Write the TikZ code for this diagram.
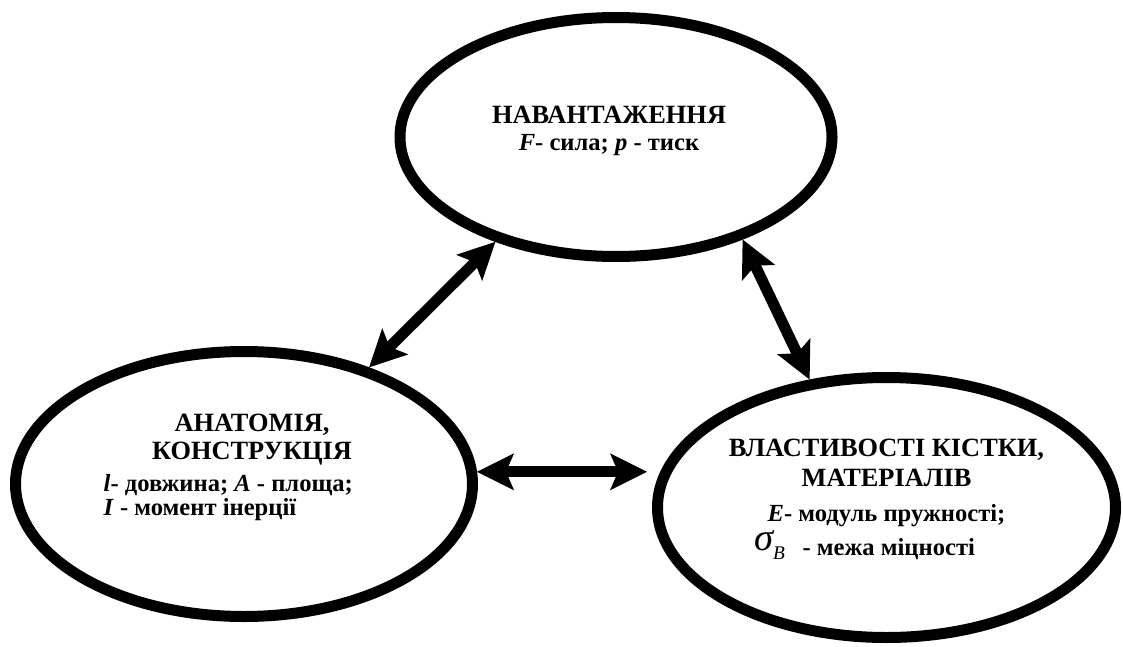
\documentclass[tikz,border=0pt]{standalone}
\usepackage{fontspec}
\setmainfont{Liberation Serif}
\usepackage{tikz}
\usetikzlibrary{arrows.meta,shapes.geometric}
\newcommand{\heading}[1]{{\fontsize{15pt}{16pt}\selectfont #1}}

\begin{document}
\begin{tikzpicture}[
        >={Stealth[length=0.74cm,width=0.74cm,inset=0.16cm,line width=0pt]},
        oval/.style={draw, ellipse, line width=0.22cm, inner sep=0pt},
        caption/.style={font=\fontsize{14pt}{16pt}\selectfont\bfseries, align=center, inner sep=0pt},
        link/.style={<->, line width=0.22cm}
    ]
        \useasboundingbox (0,0) rectangle (22.46,12.92);
        \node[oval, minimum width=8.64cm, minimum height=4.78cm,
            label={[caption, xshift=-0.14cm, yshift=0.12cm]center:{\heading{НАВАНТАЖЕННЯ}\\[-1pt]\textit{F}- сила; \textit{p} - тиск}}] (load) at (12.32,10.18) {};
        \node[oval, minimum width=9.14cm, minimum height=5.30cm,
            label={[caption, xshift=0.16cm, yshift=0.3cm]center:{\heading{АНАТОМІЯ,}\\\heading{КОНСТРУКЦІЯ}\\[2pt]\hspace*{-27pt}\begin{tabular}[t]{@{}l@{}}\textit{l}- довжина; \textit{A} - площа;\\[-2pt]\textit{I} - момент інерції\end{tabular}}}] (anatomy) at (4.88,3.24) {};
        \node[oval, minimum width=9.16cm, minimum height=5.20cm,
            label={[caption, yshift=0.16cm]center:{\heading{ВЛАСТИВОСТІ КІСТКИ,}\\[1pt]\heading{МАТЕРІАЛІВ}\\[4pt]\textit{E}- модуль пружності;\\[1pt]\hspace*{-25pt}\raisebox{3pt}{\fontsize{22pt}{22pt}\selectfont\mdseries\itshape σ}\raisebox{-2pt}{\fontsize{11pt}{11pt}\selectfont\mdseries\itshape B}\hspace{10pt}- межа міцності}}] (material) at (17.73,2.77) {};
        \draw[link] (anatomy.43) -- (load.221);
        \draw[link] (load.321) -- (material.121);
        \draw[link, shorten >=0.1cm] (anatomy.3) -- (anatomy.3 -| material.west);
    \end{tikzpicture}
\end{document}
